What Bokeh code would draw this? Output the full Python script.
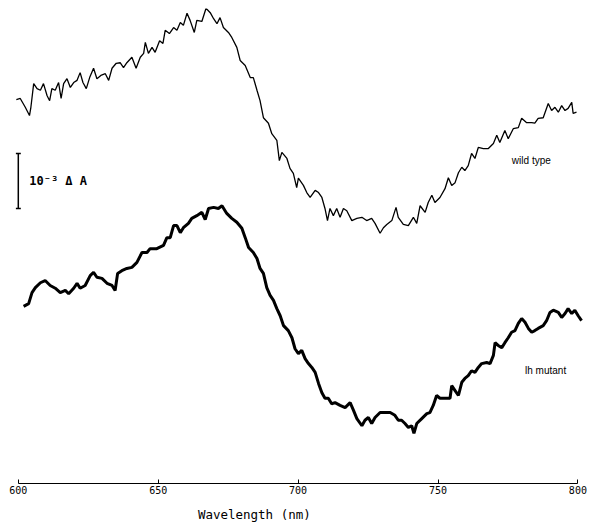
from bokeh.plotting import figure
from bokeh.models import Range1d, Label, FixedTicker
from bokeh.embed import file_html
from bokeh.resources import INLINE

# Wavelength (nm) and absorbance change (units of 10^-3 ΔA, arbitrary offset)
wt_nm = [599.3, 600.7, 602.5, 604.0, 604.5, 605.5, 606.7, 607.9, 609.0, 610.3, 611.2, 612.0,
         613.2, 614.4, 615.3, 616.2, 617.4, 618.6, 619.8, 621.0, 622.1, 623.1, 624.3, 625.5,
         626.9, 628.1, 629.5, 631.1, 632.3, 633.5, 635.0, 636.4, 637.6, 638.8, 640.6, 642.1,
         643.6, 644.8, 645.4, 646.5, 647.8, 648.9, 650.5, 651.7, 652.5, 654.0, 655.5, 656.7,
         657.9, 659.0, 660.3, 661.4, 662.9, 663.8, 665.6, 667.1, 668.6, 669.8, 671.0, 672.1,
         673.3, 675.1, 676.3, 678.1, 679.3, 681.1, 682.9, 684.0, 685.3, 686.4, 687.6, 689.4,
         690.6, 692.4, 693.3, 694.2, 696.0, 697.1, 698.3, 699.5, 700.1, 701.9, 703.1, 704.3,
         706.1, 707.3, 708.5, 709.6, 710.5, 711.4, 712.6, 713.8, 715.0, 716.2, 717.4, 719.2,
         721.0, 722.8, 724.5, 726.3, 727.5, 729.3, 730.5, 731.7, 733.5, 735.0, 735.8, 737.6,
         739.4, 741.2, 742.4, 743.6, 745.4, 746.5, 747.8, 748.9, 750.7, 752.5, 753.7, 754.9,
         756.1, 757.3, 758.5, 759.6, 760.8, 762.0, 763.2, 764.4, 766.2, 768.0, 769.8, 771.0,
         772.1, 773.9, 775.1, 776.9, 778.7, 779.9, 781.7, 783.5, 784.6, 785.8, 787.6, 789.4,
         790.6, 791.8, 793.0, 794.2, 795.4, 796.5, 797.8, 798.3, 799.5]
wt_dA = [6.98, 7.00, 6.84, 6.69, 6.84, 7.27, 7.18, 7.15, 7.27, 7.05, 6.96, 7.18,
         7.15, 7.29, 7.00, 7.27, 7.36, 7.20, 7.29, 7.33, 7.47, 7.29, 7.18, 7.38,
         7.55, 7.36, 7.42, 7.45, 7.33, 7.55, 7.64, 7.65, 7.56, 7.65, 7.75, 7.55,
         7.75, 7.82, 8.02, 7.82, 7.93, 7.84, 8.05, 8.00, 8.24, 8.18, 8.29, 8.24,
         8.38, 8.33, 8.55, 8.42, 8.20, 8.42, 8.40, 8.64, 8.56, 8.45, 8.36, 8.47,
         8.29, 8.20, 8.11, 7.93, 7.69, 7.60, 7.38, 7.38, 7.15, 6.96, 6.65, 6.55,
         6.36, 6.24, 5.87, 6.02, 5.91, 5.73, 5.64, 5.38, 5.55, 5.42, 5.29, 5.20,
         5.33, 5.29, 5.20, 5.00, 4.78, 5.00, 4.87, 5.00, 4.84, 5.00, 4.96, 4.78,
         4.82, 4.84, 4.78, 4.82, 4.73, 4.55, 4.65, 4.71, 4.78, 5.02, 4.84, 4.71,
         4.69, 4.84, 4.73, 5.05, 4.93, 5.11, 5.24, 5.11, 5.20, 5.36, 5.56, 5.42,
         5.47, 5.65, 5.75, 5.69, 5.78, 6.00, 5.91, 6.11, 6.09, 6.09, 6.18, 6.33,
         6.20, 6.42, 6.27, 6.45, 6.47, 6.64, 6.56, 6.56, 6.55, 6.64, 6.65, 6.91,
         6.78, 6.84, 6.75, 6.87, 6.78, 6.82, 6.93, 6.73, 6.75]

lh_nm = [601.9, 603.7, 604.9, 606.1, 607.9, 609.6, 611.4, 613.2, 615.0, 616.8, 618.0, 619.8,
         621.0, 622.1, 623.9, 625.7, 626.9, 628.1, 629.9, 631.7, 633.5, 634.6, 635.5, 637.0,
         638.8, 640.6, 642.4, 644.2, 646.0, 647.1, 649.5, 651.9, 653.1, 654.3, 655.5, 656.7,
         657.9, 659.0, 660.8, 662.0, 663.8, 665.6, 666.8, 668.0, 669.8, 671.5, 672.8, 674.5,
         676.3, 678.1, 679.9, 681.1, 682.3, 684.0, 685.3, 686.4, 687.6, 688.8, 690.0, 691.2,
         692.4, 693.6, 694.8, 696.5, 697.8, 698.9, 700.1, 701.3, 702.5, 703.7, 704.9, 706.1,
         707.3, 708.5, 709.6, 710.8, 712.0, 713.2, 715.0, 716.8, 718.6, 719.8, 721.0, 722.8,
         723.9, 725.1, 726.3, 727.5, 729.3, 731.7, 732.9, 734.6, 735.8, 737.0, 738.2, 739.4,
         740.6, 741.4, 742.4, 744.2, 746.0, 747.1, 748.3, 749.5, 750.7, 752.5, 754.3, 754.9,
         756.1, 757.3, 758.5, 759.6, 760.8, 762.0, 763.2, 764.4, 765.6, 767.4, 768.6, 769.8,
         770.4, 771.5, 772.8, 773.9, 775.1, 776.3, 777.5, 778.7, 779.9, 781.1, 782.3, 783.5,
         784.6, 785.8, 787.6, 788.8, 790.0, 791.2, 793.0, 794.2, 795.4, 796.5, 797.8, 798.9,
         800.1, 801.3]
lh_dA = [3.22, 3.27, 3.47, 3.56, 3.65, 3.69, 3.60, 3.55, 3.47, 3.51, 3.45, 3.55,
         3.64, 3.55, 3.60, 3.78, 3.84, 3.75, 3.73, 3.64, 3.60, 3.51, 3.82, 3.87,
         3.91, 3.93, 4.02, 4.20, 4.20, 4.27, 4.27, 4.33, 4.47, 4.47, 4.69, 4.69,
         4.56, 4.65, 4.73, 4.82, 4.87, 4.93, 4.80, 5.00, 5.02, 5.00, 5.05, 4.91,
         4.82, 4.75, 4.64, 4.47, 4.29, 4.20, 4.09, 3.91, 3.82, 3.56, 3.42, 3.33,
         3.18, 3.05, 2.87, 2.78, 2.65, 2.45, 2.36, 2.42, 2.27, 2.18, 2.11, 2.02,
         1.82, 1.65, 1.55, 1.55, 1.45, 1.47, 1.42, 1.38, 1.47, 1.33, 1.18, 1.05,
         1.15, 1.20, 1.09, 1.20, 1.29, 1.29, 1.29, 1.24, 1.15, 1.15, 1.09, 1.02,
         1.05, 0.91, 1.09, 1.18, 1.27, 1.29, 1.42, 1.60, 1.55, 1.55, 1.55, 1.78,
         1.69, 1.60, 1.84, 1.91, 1.96, 2.05, 2.02, 2.11, 2.18, 2.20, 2.18, 2.33,
         2.56, 2.51, 2.47, 2.56, 2.65, 2.75, 2.78, 2.91, 3.00, 2.93, 2.82, 2.75,
         2.78, 2.82, 2.87, 2.96, 3.11, 3.15, 3.11, 3.02, 3.09, 3.18, 3.09, 3.15,
         3.05, 2.96]

x_ticks = [600, 650, 700, 750, 800]
scale_bar = [5.0, 6.0]  # 1 x 10^-3 ΔA

p = figure(width=591, height=525, output_backend="svg", toolbar_location=None,
           x_range=Range1d(599, 802), y_range=Range1d(0, 8.636),
           y_axis_location=None, min_border_left=15, min_border_right=8,
           min_border_top=8, min_border_bottom=42)
p.outline_line_color = None
p.xgrid.visible = False
p.ygrid.visible = False
p.background_fill_color = "white"
p.border_fill_color = "white"

p.line(wt_nm, wt_dA, line_color="black", line_width=1.3)
p.line(lh_nm, lh_dA, line_color="black", line_width=3.0)

# scale bar
p.segment(x0=[600], y0=[scale_bar[0]], x1=[600], y1=[scale_bar[1]], line_color="black", line_width=1.5)
p.segment(x0=[599.1, 599.1], y0=scale_bar, x1=[600.9, 600.9], y1=scale_bar, line_color="black", line_width=1.5)
p.add_layout(Label(x=603.9, y=5.5, text="10\u207b\u00b3 \u0394  A", text_font="DejaVu Sans Mono",
                   text_font_size="12px", text_font_style="bold", text_baseline="middle",
                   text_color="black"))

p.add_layout(Label(x=776.4, y=5.87, text="wild type", text_font="Liberation Sans",
                   text_font_size="10px", text_baseline="middle", text_color="black"))
p.add_layout(Label(x=781.1, y=2.05, text="lh mutant", text_font="Liberation Sans",
                   text_font_size="10px", text_baseline="middle", text_color="black"))

ax = p.xaxis[0]
ax.bounds = (600, 800)
ax.ticker = FixedTicker(ticks=x_ticks)
ax.minor_tick_line_color = None
ax.major_tick_in = 4
ax.major_tick_out = 0
ax.major_label_standoff = 2
ax.major_label_text_font = "DejaVu Sans Mono"
ax.major_label_text_font_size = "10px"
ax.major_label_text_color = "black"
ax.axis_line_color = "black"
ax.axis_line_width = 1.2
ax.major_tick_line_color = "black"
# label sits left of centre in the original: pad with no-break spaces on the right
ax.axis_label = "Wavelength (nm)" + "\u00a0" * 12
ax.axis_label_text_font = "DejaVu Sans Mono"
ax.axis_label_text_font_size = "12.5px"
ax.axis_label_text_font_style = "normal"
ax.axis_label_text_color = "black"
ax.axis_label_standoff = 10

open("out.html", "w").write(file_html(p, INLINE))
